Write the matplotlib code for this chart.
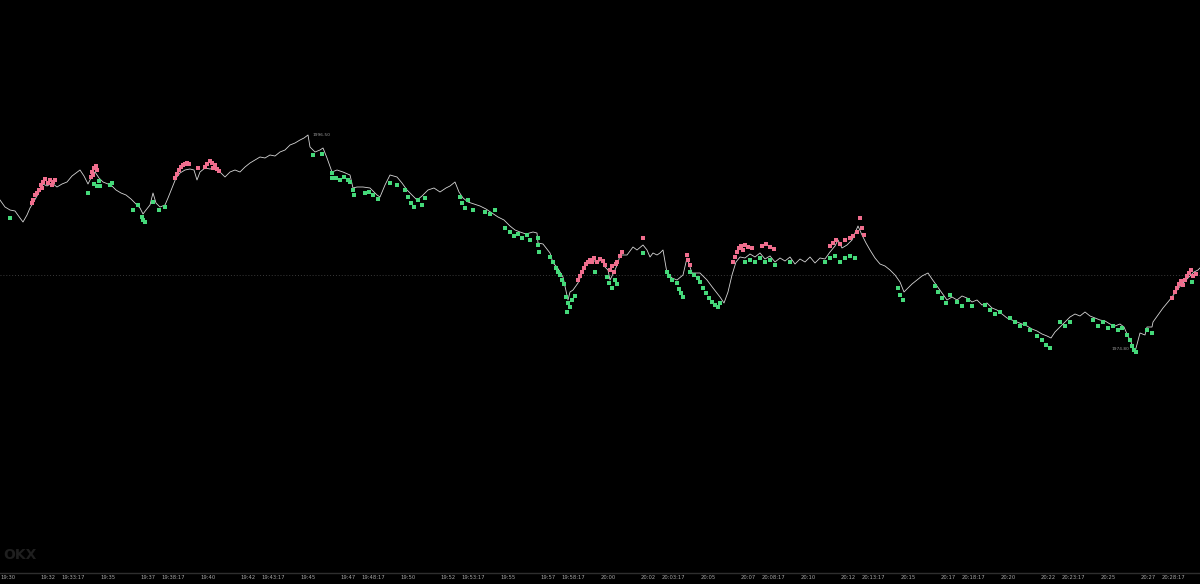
import matplotlib
matplotlib.use("Agg")
import matplotlib.pyplot as plt

# seconds after 19:30 and price
line_sec = [-24, -9, 6, 21, 36, 45, 57, 66, 75, 87, 96, 105, 117, 132, 147, 162, 177, 192, 204, 216,
            228, 240, 249, 261, 273, 285, 300, 312, 324, 339, 354, 369, 384, 396, 405, 414, 426, 435, 444, 456,
            471, 480, 492, 504, 516, 531, 546, 558, 567, 576, 591, 606, 621, 636, 651, 666, 681, 696, 711, 726,
            741, 756, 771, 786, 801, 816, 831, 846, 861, 876, 888, 900, 906, 921, 936, 945, 957, 972, 987, 1005,
            1026, 1035, 1047, 1065, 1086, 1107, 1116, 1131, 1146, 1167, 1182, 1197, 1212, 1227, 1242, 1260, 1278, 1296, 1314, 1326,
            1341, 1353, 1365, 1380, 1398, 1416, 1434, 1452, 1470, 1488, 1506, 1521, 1536, 1554, 1575, 1587, 1590, 1605, 1626, 1635,
            1647, 1665, 1677, 1680, 1686, 1695, 1710, 1722, 1737, 1752, 1767, 1782, 1791, 1800, 1806, 1821, 1830, 1836, 1857, 1875,
            1887, 1905, 1917, 1926, 1935, 1947, 1956, 1965, 1977, 1992, 2007, 2025, 2037, 2052, 2076, 2097, 2115, 2136, 2148, 2160,
            2172, 2184, 2196, 2211, 2226, 2241, 2256, 2271, 2286, 2301, 2316, 2331, 2346, 2361, 2376, 2391, 2406, 2421, 2436, 2451,
            2466, 2481, 2490, 2502, 2517, 2532, 2541, 2550, 2562, 2574, 2586, 2601, 2616, 2631, 2646, 2661, 2676, 2688, 2700, 2712,
            2727, 2742, 2760, 2772, 2787, 2802, 2817, 2832, 2847, 2862, 2877, 2892, 2907, 2922, 2937, 2952, 2967, 2982, 2997, 3012,
            3027, 3042, 3057, 3072, 3087, 3102, 3117, 3129, 3141, 3156, 3171, 3186, 3201, 3216, 3231, 3246, 3261, 3276, 3291, 3306,
            3321, 3336, 3348, 3357, 3369, 3381, 3396, 3411, 3417, 3432, 3435, 3450, 3465, 3480, 3492, 3507, 3522, 3534, 3546, 3558,
            3570, 3576]
line_price = [1990.0, 1989.3, 1989.0, 1988.9, 1988.2, 1987.8, 1988.5, 1989.2, 1989.7, 1990.4, 1991.0, 1991.6, 1991.4, 1991.7, 1991.3, 1991.6, 1991.8, 1992.4, 1992.7, 1993.0,
              1992.4, 1991.6, 1992.2, 1992.8, 1992.2, 1991.8, 1991.6, 1991.4, 1991.0, 1990.7, 1990.5, 1990.1, 1989.6, 1989.2, 1988.6, 1989.0, 1989.5, 1990.7, 1989.7, 1989.3,
              1989.5, 1990.2, 1991.2, 1992.2, 1992.7, 1993.0, 1993.1, 1993.0, 1992.0, 1992.8, 1993.2, 1993.1, 1993.2, 1992.8, 1992.3, 1992.8, 1993.0, 1992.8, 1993.3, 1993.7,
              1994.0, 1994.3, 1994.2, 1994.5, 1994.4, 1994.8, 1995.0, 1995.5, 1995.7, 1996.0, 1996.2, 1996.5, 1995.3, 1994.8, 1995.0, 1995.2, 1994.2, 1992.8, 1993.0, 1992.8,
              1992.5, 1991.2, 1991.3, 1991.3, 1991.2, 1990.5, 1990.3, 1991.5, 1992.5, 1992.3, 1991.7, 1991.0, 1990.5, 1990.0, 1990.4, 1991.0, 1991.2, 1990.8, 1991.2, 1991.4,
              1991.8, 1990.8, 1990.2, 1989.8, 1989.6, 1989.4, 1989.1, 1988.7, 1988.3, 1988.0, 1987.4, 1987.0, 1986.8, 1986.6, 1986.8, 1986.7, 1985.7, 1985.6, 1984.7, 1983.7,
              1983.3, 1982.3, 1980.5, 1980.0, 1980.8, 1981.0, 1981.7, 1982.7, 1983.7, 1984.0, 1983.8, 1984.0, 1983.3, 1983.0, 1982.0, 1983.0, 1983.7, 1984.5, 1984.5, 1985.3,
              1985.0, 1985.5, 1985.0, 1984.3, 1984.7, 1984.5, 1984.7, 1985.0, 1982.7, 1982.2, 1982.0, 1982.5, 1984.2, 1982.7, 1982.7, 1982.0, 1981.2, 1980.3, 1979.7, 1980.8,
              1982.5, 1983.8, 1984.3, 1984.2, 1984.6, 1984.3, 1984.7, 1984.1, 1984.4, 1983.8, 1984.2, 1983.9, 1984.3, 1983.6, 1984.1, 1983.8, 1984.3, 1983.7, 1984.2, 1984.1,
              1984.8, 1985.4, 1986.0, 1985.2, 1985.5, 1986.0, 1986.7, 1987.4, 1986.5, 1985.7, 1985.0, 1984.2, 1983.6, 1983.4, 1983.0, 1982.5, 1981.8, 1980.8, 1981.2, 1981.6,
              1982.0, 1982.4, 1982.7, 1982.1, 1981.4, 1980.7, 1980.0, 1980.3, 1980.0, 1980.4, 1980.2, 1979.8, 1980.0, 1979.5, 1979.7, 1979.2, 1979.0, 1978.6, 1978.2, 1978.0,
              1977.8, 1977.6, 1977.4, 1977.1, 1976.9, 1976.6, 1976.4, 1976.2, 1976.8, 1977.3, 1977.8, 1978.3, 1978.6, 1978.4, 1978.8, 1978.4, 1978.2, 1978.0, 1977.9, 1977.6,
              1977.4, 1977.6, 1977.3, 1976.6, 1975.8, 1974.8, 1976.7, 1976.5, 1977.3, 1977.3, 1977.8, 1978.5, 1979.2, 1979.8, 1980.3, 1981.0, 1981.6, 1982.0, 1982.4, 1982.8,
              1983.0, 1983.2]

sell_sec = [72, 75, 81, 87, 93, 99, 102, 105, 111, 120, 126, 132, 135, 141, 249, 252, 255, 258, 264, 267,
            501, 507, 513, 519, 525, 531, 537, 543, 570, 591, 597, 606, 612, 615, 621, 627, 633,
            1710, 1716, 1722, 1728, 1734, 1740, 1746, 1752, 1758, 1767, 1776, 1785, 1791, 1806, 1812, 1818, 1824, 1827, 1836, 1842, 1905,
            2037, 2040, 2046, 2175, 2181, 2187, 2193, 2199, 2205, 2211, 2220, 2232, 2262, 2274, 2286, 2298,
            2466, 2475, 2484, 2496, 2511, 2526, 2535, 2547, 2556, 2562, 2568,
            3492, 3501, 3507, 3513, 3519, 3525, 3531, 3537, 3543, 3549, 3555, 3564]
sell_price = [1989.7, 1990.0, 1990.5, 1990.7, 1991.0, 1991.5, 1991.2, 1991.8, 1992.1, 1991.7, 1992.0, 1991.5, 1991.8, 1992.0, 1992.3, 1992.8, 1992.5, 1993.2, 1993.4, 1993.0,
              1992.2, 1992.6, 1993.0, 1993.3, 1993.5, 1993.6, 1993.7, 1993.6, 1993.2, 1993.3, 1993.6, 1993.9, 1993.7, 1993.2, 1993.5, 1993.1, 1992.9,
              1982.0, 1982.4, 1982.8, 1983.2, 1983.6, 1983.8, 1984.0, 1983.8, 1984.2, 1983.8, 1984.1, 1983.9, 1983.5, 1983.0, 1983.4, 1982.8, 1983.6, 1983.8, 1984.4, 1984.8, 1986.2,
              1984.5, 1984.0, 1983.5, 1983.8, 1984.3, 1984.8, 1985.2, 1985.4, 1985.0, 1985.5, 1985.3, 1985.2, 1985.4, 1985.6, 1985.3, 1985.1,
              1985.4, 1985.7, 1986.0, 1985.6, 1986.0, 1986.2, 1986.4, 1986.8, 1988.2, 1987.2, 1986.5,
              1980.2, 1980.8, 1981.2, 1981.6, 1981.9, 1981.5, 1982.0, 1982.4, 1982.7, 1983.0, 1982.4, 1982.6]

buy_sec = [6, 240, 258, 267, 273, 276, 306, 312, 375, 390, 402, 405, 411, 435, 453, 471,
           915, 942, 972, 972, 984, 996, 1008, 1020, 1026, 1035, 1038, 1071, 1083, 1095, 1110, 1146, 1167,
           1191, 1200, 1209, 1218, 1230, 1242, 1251, 1356, 1362, 1371, 1380, 1395, 1431, 1446, 1461,
           1491, 1506, 1518, 1530, 1542, 1557, 1566, 1590, 1590, 1593, 1626, 1635, 1644, 1650, 1656, 1662, 1668,
           1674, 1677, 1680, 1686, 1692, 1701, 1761, 1797, 1803, 1812, 1821, 1827, 1905,
           1977, 1983, 1992, 2007, 2013, 2019, 2025, 2046, 2058, 2070, 2076, 2085, 2094, 2103, 2112, 2121, 2130, 2136,
           2211, 2226, 2241, 2256, 2271, 2286, 2301, 2346, 2451, 2466, 2481, 2496, 2511, 2526, 2541,
           2670, 2676, 2685, 2781, 2790, 2802, 2814, 2826, 2847, 2862, 2880, 2892, 2931, 2946, 2961, 2976,
           3006, 3021, 3036, 3051, 3066, 3087, 3102, 3114, 3126, 3156, 3171, 3186,
           3255, 3270, 3285, 3300, 3315, 3330, 3342, 3357, 3366, 3372, 3378, 3384, 3417, 3432, 3552]
buy_price = [1988.2, 1990.7, 1991.6, 1991.4, 1991.9, 1991.4, 1991.5, 1991.7, 1989.0, 1989.5, 1988.3, 1988.0, 1987.8, 1989.8, 1989.0, 1989.3,
             1994.5, 1994.6, 1992.7, 1992.2, 1992.2, 1992.0, 1992.3, 1992.0, 1991.8, 1991.0, 1990.5, 1990.7, 1990.8, 1990.5, 1990.1, 1991.7, 1991.5,
             1991.0, 1990.3, 1989.7, 1989.3, 1990.0, 1989.5, 1990.2, 1990.3, 1989.7, 1989.2, 1990.0, 1989.0, 1988.8, 1988.6, 1989.0,
             1987.2, 1986.8, 1986.4, 1986.6, 1986.2, 1986.5, 1986.0, 1986.2, 1985.5, 1984.8, 1984.3, 1983.8, 1983.2, 1982.8, 1982.5, 1982.0, 1981.6,
             1980.3, 1978.8, 1979.7, 1979.3, 1980.0, 1980.4, 1982.8, 1982.3, 1981.7, 1981.2, 1982.0, 1981.6, 1984.7,
             1982.8, 1982.4, 1982.0, 1981.7, 1981.1, 1980.7, 1980.3, 1982.8, 1982.5, 1982.2, 1981.8, 1981.2, 1980.7, 1980.2, 1979.8, 1979.5, 1979.3, 1979.7,
             1983.8, 1984.0, 1983.8, 1984.2, 1983.8, 1984.0, 1983.5, 1983.8, 1983.8, 1984.2, 1984.4, 1983.8, 1984.2, 1984.4, 1984.2,
             1981.2, 1980.5, 1980.0, 1981.4, 1980.8, 1980.2, 1979.7, 1980.5, 1979.8, 1979.4, 1980.0, 1979.4, 1979.5, 1979.0, 1978.6, 1978.8,
             1978.2, 1977.8, 1977.4, 1977.6, 1977.0, 1976.4, 1976.0, 1975.5, 1975.2, 1977.8, 1977.4, 1977.8,
             1978.0, 1977.4, 1977.8, 1977.2, 1977.4, 1977.0, 1977.2, 1976.5, 1976.0, 1975.4, 1975.0, 1974.8, 1977.0, 1976.7, 1981.8]

last_price = 1982.5

tick_labels = ["19:30", "19:32", "19:33:17", "19:35", "19:37", "19:38:17", "19:40", "19:42", "19:43:17",
               "19:45", "19:47", "19:48:17", "19:50", "19:52", "19:53:17", "19:55", "19:57", "19:58:17",
               "20:00", "20:02", "20:03:17", "20:05", "20:07", "20:08:17", "20:10", "20:12", "20:13:17",
               "20:15", "20:17", "20:18:17", "20:20", "20:22", "20:23:17", "20:25", "20:27", "20:28:17"]


def to_sec(label):
    parts = [int(p) for p in label.split(":")]
    h, m = parts[0], parts[1]
    s = parts[2] if len(parts) > 2 else 0
    return (h * 3600 + m * 60 + s) - (19 * 3600 + 30 * 60)


fig = plt.figure(figsize=(12, 5.84), dpi=100, facecolor="black")
ax = fig.add_axes([0, 11 / 584, 1, 573 / 584], facecolor="black")

ax.axhline(last_price, color="#3a3a3a", lw=0.7, ls=(0, (1, 2)))
ax.plot(line_sec, line_price, color="#d6d6d6", lw=0.6, zorder=2)
ax.plot(sell_sec, sell_price, ls="none", marker="s", ms=3.3, mew=0, color="#f06e8e", zorder=3)
ax.plot(buy_sec, buy_price, ls="none", marker="s", ms=3.3, mew=0, color="#45d97a", zorder=3)

# high / low labels
i_hi = line_price.index(max(line_price))
i_lo = line_price.index(min(line_price))
ax.annotate(f"{line_price[i_hi]:.2f}", (line_sec[i_hi], line_price[i_hi]), xytext=(3, 0),
            textcoords="offset points", fontsize=3.2, color="#9a9a9a", va="center", ha="left")
ax.annotate(f"{line_price[i_lo]:.2f}", (line_sec[i_lo], line_price[i_lo]), xytext=(-4, 2),
            textcoords="offset points", fontsize=3.2, color="#9a9a9a", va="center", ha="right")

ax.set_xlim(-24, 3576)
ax.set_ylim(1952.7, 2010)
ax.set_xticks([to_sec(t) for t in tick_labels])
ax.set_xticklabels(tick_labels)
ax.tick_params(axis="x", length=0, pad=1.2, labelsize=3.8, labelcolor="#a8a8a8")
ax.set_yticks([])
for side in ["top", "left", "right"]:
    ax.spines[side].set_visible(False)
ax.spines["bottom"].set_color("#2e2e2e")
ax.spines["bottom"].set_linewidth(1.0)

# faint watermark, bottom-left
fig.text(0.003, 22 / 584, "OKX", fontsize=10, fontweight="bold", color="#1f1f1f", ha="left", va="bottom")

fig.savefig("out.png", dpi=100, facecolor="black")
